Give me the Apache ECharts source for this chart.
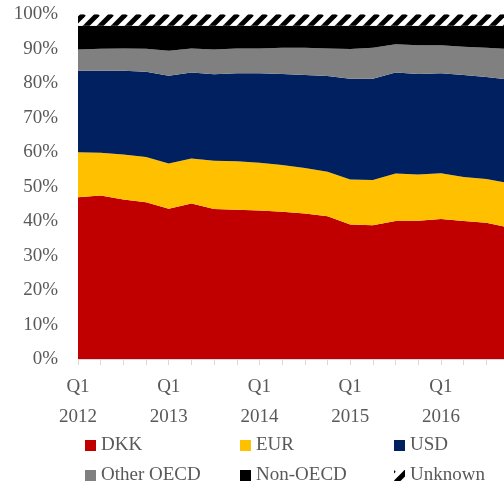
<!DOCTYPE html>
<html>
<head>
<meta charset="utf-8">
<script src="https://cdn.jsdelivr.net/npm/echarts@6/dist/echarts.min.js"></script>
<style>
html,body{margin:0;padding:0;background:#fff;}
#chart{width:504px;height:489px;}
</style>
</head>
<body>
<div id="chart"></div>
<script>
var quarters = ["Q1 2012","Q2 2012","Q3 2012","Q4 2012","Q1 2013","Q2 2013","Q3 2013","Q4 2013","Q1 2014","Q2 2014","Q3 2014","Q4 2014","Q1 2015","Q2 2015","Q3 2015","Q4 2015","Q1 2016","Q2 2016","Q3 2016","Q4 2016"];
var dkk = [46.9,47.4,46.3,45.5,43.6,45.1,43.5,43.3,43.1,42.7,42.2,41.4,39.0,38.8,40.0,40.1,40.6,40.0,39.5,38.1];
var eur = [13.1,12.4,13.0,13.1,13.1,13.1,14.0,14.1,13.8,13.6,13.2,12.9,13.1,13.1,13.8,13.4,13.3,12.8,12.7,12.9];
var usd = [23.6,23.8,24.3,24.7,25.5,24.9,25.1,25.5,26.0,26.4,27.0,27.8,29.2,29.4,29.3,29.2,29.0,29.6,29.6,30.1];
var otherOecd = [6.2,6.4,6.5,6.7,7.2,7.0,7.2,7.2,7.2,7.6,7.9,8.0,8.6,9.0,8.2,8.3,8.1,8.2,8.5,8.8];
var nonOecd = [6.9,6.7,6.6,6.7,7.3,6.6,6.9,6.6,6.6,6.4,6.4,6.6,6.8,6.4,5.4,5.7,5.7,6.1,6.4,6.8];
var unknown = [3.3,3.3,3.3,3.3,3.3,3.3,3.3,3.3,3.3,3.3,3.3,3.3,3.3,3.3,3.3,3.3,3.3,3.3,3.3,3.3];
var yTicks = [0,10,20,30,40,50,60,70,80,90,100];

var FONT = 'Liberation Serif';
var TXT = '#595959';

// hatched pattern
var T = 14;
var cv = document.createElement('canvas');
cv.width = T; cv.height = T;
var cx = cv.getContext('2d');
cx.fillStyle = '#fff'; cx.fillRect(0,0,T,T);
cx.strokeStyle = '#000'; cx.lineWidth = 5;
for (var k=-1;k<=1;k++){
  cx.beginPath(); cx.moveTo(k*T, T); cx.lineTo(k*T+T, 0); cx.stroke();
}
var hatch = {image: cv, repeat: 'repeat'};

var names = ['DKK','EUR','USD','Other OECD','Non-OECD','Unknown'];
var colors = ['#C00000','#FFC000','#002060','#808080','#000000',hatch];
var datas = [dkk,eur,usd,otherOecd,nonOecd,unknown];

var series = names.map(function(n,i){
  return {
    name:n, type:'line', stack:'total', data:datas[i],
    showSymbol:false, symbol:'none', smooth:false,
    lineStyle:{width:0, color: (i===5?'#000':colors[i])},
    itemStyle:{color:colors[i]},
    areaStyle:{color:colors[i], opacity:1},
    emphasis:{disabled:true}
  };
});

var legPos = [[85,435.5],[240,435.5],[394,435.5],[85,465.5],[240,465.5],[394,465.5]];
var legends = names.map(function(n,i){
  return {
    data:[{name:n, icon:'rect'}], left:legPos[i][0], top:legPos[i][1],
    padding:0, itemWidth:11, itemHeight:11, itemGap:0,
    selectedMode:false,
    textStyle:{fontFamily:FONT, fontSize:19, color:TXT, lineHeight:20, padding:[0,0,0,0]}
  };
});

var chart = echarts.init(document.getElementById('chart'), null, {renderer:'canvas'});
chart.setOption({
  animation:false,
  backgroundColor:'#fff',
  grid:{left:78, width:431, top:14.3, height:344.7, containLabel:false, outerBoundsMode:'none'},
  legend: legends,
  xAxis:{
    type:'category', data:quarters, boundaryGap:false,
    axisLine:{show:true, lineStyle:{color:'#d9d9d9', width:1}},
    axisTick:{show:true, interval:0, length:6, lineStyle:{color:'#d9d9d9'}},
    axisLabel:{
      interval:0, margin:13, fontFamily:FONT, fontSize:19, color:TXT, lineHeight:30,
      formatter:function(v,idx){ var p=v.split(' '); return p[0]==='Q1' ? p[0]+'\n'+p[1] : ''; }
    },
    splitLine:{show:false}
  },
  yAxis:{
    type:'value', min:yTicks[0], max:yTicks[yTicks.length-1], interval:10,
    axisLine:{show:false}, axisTick:{show:false}, splitLine:{show:false},
    axisLabel:{margin:20, fontFamily:FONT, fontSize:19, color:TXT, formatter:'{value}%', padding:[6,0,0,0]}
  },
  series: series
});
</script>
</body>
</html>
